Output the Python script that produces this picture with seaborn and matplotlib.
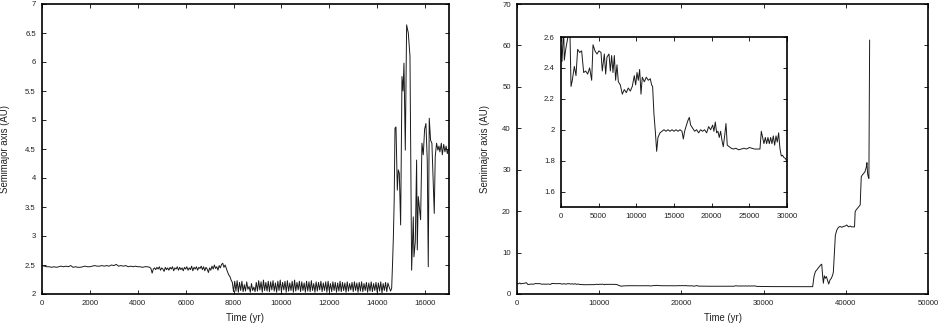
import numpy as np
import pandas as pd
import matplotlib
matplotlib.use("Agg")
import matplotlib.pyplot as plt
import seaborn as sns
from matplotlib.ticker import FuncFormatter

# ---------------- data: left panel ----------------
left_time_a = np.arange(0, 4500, 100)
left_a = [2.49, 2.48, 2.47, 2.47, 2.46, 2.47, 2.46, 2.47, 2.48, 2.47,
          2.48, 2.47, 2.49, 2.46, 2.47, 2.46, 2.46, 2.47, 2.48, 2.47,
          2.47, 2.48, 2.49, 2.48, 2.48, 2.49, 2.48, 2.49, 2.48, 2.50,
          2.49, 2.51, 2.48, 2.49, 2.48, 2.49, 2.47, 2.48, 2.47, 2.48,
          2.47, 2.47, 2.46, 2.47, 2.47]

left_time_b = np.arange(4500, 8000, 50)
left_b = [2.46, 2.44, 2.36, 2.43, 2.45, 2.42, 2.46, 2.43, 2.47, 2.41,
          2.45, 2.43, 2.39, 2.46, 2.42, 2.45, 2.41, 2.46, 2.43, 2.47,
          2.40, 2.45, 2.43, 2.47, 2.41, 2.46, 2.42, 2.45, 2.40, 2.46,
          2.43, 2.47, 2.41, 2.45, 2.42, 2.48, 2.40, 2.46, 2.43, 2.47,
          2.41, 2.46, 2.44, 2.48, 2.42, 2.47, 2.40, 2.46, 2.43, 2.37,
          2.45, 2.41, 2.48, 2.43, 2.50, 2.44, 2.47, 2.41, 2.49, 2.45,
          2.51, 2.53, 2.46, 2.50, 2.44, 2.38, 2.33, 2.30, 2.24, 2.20]

left_time_c = np.arange(8000, 14500, 50)
left_c = [2.04, 2.22, 2.05, 2.23, 2.03, 2.20, 2.06, 2.22, 2.04, 2.16,
          2.05, 2.21, 2.08, 2.13, 2.03, 2.18, 2.06, 2.12, 2.04, 2.20,
          2.05, 2.23, 2.07, 2.21, 2.03, 2.24, 2.06, 2.20, 2.05, 2.22,
          2.04, 2.21, 2.07, 2.23, 2.05, 2.19, 2.03, 2.22, 2.06, 2.24,
          2.04, 2.20, 2.07, 2.22, 2.03, 2.23, 2.05, 2.19, 2.06, 2.22,
          2.03, 2.24, 2.05, 2.20, 2.07, 2.22, 2.04, 2.21, 2.06, 2.19,
          2.03, 2.22, 2.05, 2.21, 2.04, 2.23, 2.06, 2.18, 2.03, 2.21,
          2.05, 2.20, 2.07, 2.22, 2.04, 2.19, 2.06, 2.21, 2.03, 2.22,
          2.05, 2.18, 2.04, 2.21, 2.06, 2.20, 2.03, 2.19, 2.05, 2.22,
          2.04, 2.20, 2.06, 2.19, 2.03, 2.21, 2.05, 2.18, 2.07, 2.20,
          2.04, 2.21, 2.06, 2.19, 2.03, 2.20, 2.05, 2.21, 2.04, 2.18,
          2.06, 2.20, 2.03, 2.19, 2.05, 2.21, 2.04, 2.18, 2.06, 2.20,
          2.03, 2.19, 2.05, 2.21, 2.02, 2.18, 2.06, 2.20, 2.04, 2.19]

left_time_d = [14500, 14560, 14605, 14640, 14675, 14710, 14744, 14786, 14841, 14883,
               14925, 14980, 15036, 15080, 15119, 15175, 15230, 15300, 15370, 15439,
               15508, 15536, 15592, 15647, 15675, 15717, 15759, 15814, 15870, 15925,
               15981, 16036, 16092, 16134, 16175, 16231, 16286, 16342, 16384, 16425,
               16481, 16536, 16580, 16620, 16680, 16720, 16780, 16830, 16880, 16930,
               16970]
left_d = [2.12, 2.05, 2.10, 2.50, 2.96, 3.60, 4.86, 4.88, 3.79, 4.14,
          4.08, 3.19, 5.75, 5.50, 5.98, 4.48, 6.64, 6.50, 6.10, 2.41,
          3.33, 2.64, 2.90, 4.31, 2.76, 3.68, 3.50, 3.28, 4.60, 4.40,
          4.84, 4.94, 4.30, 2.47, 5.03, 4.65, 4.60, 3.90, 3.39, 4.37,
          4.60, 4.48, 4.55, 4.45, 4.60, 4.40, 4.58, 4.45, 4.55, 4.42,
          4.50]

# ---------------- data: right panel (and inset) ----------------
right_time = [0, 130, 350, 440, 620, 880, 1150, 1330, 1500, 1770,
              1990, 2210, 2480, 2740, 3010, 3270, 3540, 3800, 4070, 4250,
              4510, 4780, 5040, 5310, 5480, 5750, 5930, 6100, 6370, 6550,
              6720, 6900, 7080, 7250, 7430, 7610, 7870, 8140, 8400, 8670,
              8930, 9200, 9460, 9730, 9910, 10090, 10260, 10440, 10620, 10790,
              11060, 11320, 11590, 11850, 12030, 12160, 12340, 12520, 12700, 12870,
              13140, 13400, 13670, 13930, 14200, 14460, 14730, 15000, 15260, 15530,
              15790, 16060, 16240, 16410, 16590, 16850, 17030, 17210, 17470, 17740,
              18000, 18270, 18530, 18800, 19060, 19330, 19600, 19860, 20130, 20300,
              20480, 20660, 20830, 21010, 21190, 21370, 21540, 21720, 21900, 22070,
              22340, 22600, 22870, 23220, 23570, 23930, 24280, 24640, 24990, 25340,
              25700, 26050, 26410, 26590, 26770, 26940, 27120, 27300, 27470, 27650,
              27830, 28000, 28180, 28360, 28540, 28710, 28890, 29060, 29240, 29410,
              29590, 29770, 29940, 31000, 32000, 33000, 34000, 35000, 35970, 36130,
              36300, 36460, 36620, 36780, 36940, 37070, 37190, 37270, 37390, 37510,
              37640, 37760, 37920, 38080, 38240, 38410, 38490, 38570, 38650, 38730,
              38900, 39100, 39310, 39510, 39710, 39920, 40120, 40330, 40530, 40730,
              40940, 41060, 41140, 41260, 41430, 41590, 41750, 41880, 42000, 42160,
              42330, 42490, 42570, 42650, 42730, 42810, 42900]
right_sma = [2.54, 2.44, 2.66, 2.45, 2.52, 2.59, 2.72, 2.28, 2.32, 2.41,
             2.35, 2.52, 2.50, 2.51, 2.37, 2.38, 2.36, 2.40, 2.32, 2.55,
             2.51, 2.49, 2.51, 2.50, 2.38, 2.49, 2.36, 2.47, 2.49, 2.38,
             2.48, 2.37, 2.48, 2.32, 2.42, 2.31, 2.29, 2.23, 2.26, 2.24,
             2.27, 2.25, 2.28, 2.35, 2.29, 2.37, 2.32, 2.39, 2.23, 2.34,
             2.31, 2.34, 2.32, 2.33, 2.29, 2.28, 2.10, 1.99, 1.86, 1.95,
             1.98, 1.99, 2.00, 1.99, 2.00, 1.99, 2.00, 1.99, 2.00, 1.99,
             2.00, 1.99, 1.94, 1.99, 2.02, 2.06, 2.08, 2.03, 2.01, 1.99,
             2.00, 1.98, 2.00, 1.99, 2.00, 1.98, 2.02, 2.00, 2.03, 1.99,
             2.05, 1.98, 1.99, 1.95, 1.99, 1.93, 1.89, 1.96, 2.04, 1.90,
             1.89, 1.88, 1.875, 1.88, 1.87, 1.875, 1.88, 1.875, 1.885, 1.88,
             1.875, 1.875, 1.875, 1.99, 1.95, 1.91, 1.95, 1.91, 1.95, 1.91,
             1.95, 1.91, 1.96, 1.90, 1.96, 1.92, 1.98, 1.88, 1.83, 1.835,
             1.82, 1.815, 1.80, 1.79, 1.78, 1.78, 1.77, 1.77, 1.77, 4.2,
             5.4, 5.8, 6.2, 6.6, 7.0, 7.2, 4.2, 2.6, 4.4, 3.8,
             4.2, 3.4, 2.4, 3.4, 3.8, 4.6, 5.4, 8.2, 11.4, 14.2,
             15.4, 16.1, 16.3, 16.1, 16.3, 16.4, 16.65, 16.2, 16.4, 16.2,
             16.2, 16.2, 19.9, 20.3, 20.7, 21.1, 21.5, 28.3, 28.7, 29.1,
             29.5, 30.6, 31.7, 29.1, 28.3, 27.9, 61.3]

left_xticks = list(range(0, 17000, 2000))
left_yticks = [2, 2.5, 3, 3.5, 4, 4.5, 5, 5.5, 6, 6.5, 7]
right_xticks = list(range(0, 50001, 10000))
right_yticks = list(range(0, 71, 10))
inset_xticks = list(range(0, 30001, 5000))
inset_yticks = [1.6, 1.8, 2.0, 2.2, 2.4, 2.6]

xlabel = "Time (yr)"
ylabel = "Semimajor axis (AU)"

# ---------------- frames ----------------
left_df = pd.DataFrame({
    "time": np.concatenate([left_time_a, left_time_b, left_time_c, left_time_d]),
    "sma": np.concatenate([left_a, left_b, left_c, left_d]),
})
right_df = pd.DataFrame({"time": right_time, "sma": right_sma})

# ---------------- style ----------------
sns.set_style("ticks")
plt.rcParams["font.family"] = ["Liberation Sans", "DejaVu Sans"]
TXT = "#222222"
LINE = "#1a1a1a"

W, H = 943, 324
fig = plt.figure(figsize=(W / 100, H / 100), dpi=100)
fig.patch.set_facecolor("white")


def px_axes(x0, y0, x1, y1):
    return fig.add_axes([x0 / W, 1 - y1 / H, (x1 - x0) / W, (y1 - y0) / H])


fmt = FuncFormatter(lambda v, p: "%g" % v)


def style(ax, fs=5.6):
    for s in ax.spines.values():
        s.set_linewidth(1.2)
        s.set_color("black")
        s.set_visible(True)
    ax.tick_params(direction="in", top=True, right=True, length=3.2,
                   width=0.6, labelsize=fs, colors="black", labelcolor=TXT)
    ax.tick_params(axis="x", pad=4.2)
    ax.tick_params(axis="y", pad=4.5)
    ax.xaxis.set_major_formatter(fmt)
    ax.yaxis.set_major_formatter(fmt)
    ax.minorticks_off()
    ax.set_facecolor("white")


ax1 = px_axes(42, 4, 449, 294)
ax2 = px_axes(517, 4, 928, 294)
ax3 = px_axes(561, 37, 787, 207)

sns.lineplot(data=left_df, x="time", y="sma", ax=ax1, color=LINE,
             linewidth=0.7, estimator=None, sort=False)
sns.lineplot(data=right_df, x="time", y="sma", ax=ax2, color=LINE,
             linewidth=0.7, estimator=None, sort=False)
sns.lineplot(data=right_df, x="time", y="sma", ax=ax3, color=LINE,
             linewidth=0.7, estimator=None, sort=False)

ax1.set_xlim(0, 17000)
ax1.set_ylim(2, 7)
ax1.set_xticks(left_xticks)
ax1.set_yticks(left_yticks)

ax2.set_xlim(0, 50000)
ax2.set_ylim(0, 70)
ax2.set_xticks(right_xticks)
ax2.set_yticks(right_yticks)

ax3.set_xlim(0, 30000)
ax3.set_ylim(1.5, 2.6)
ax3.set_xticks(inset_xticks)
ax3.set_yticks(inset_yticks)

for ax in (ax1, ax2, ax3):
    style(ax)
ax3.set_zorder(5)

for ax, ylx, xly in ((ax1, (5 - 42) / 407, -(318 - 294) / 290),
                     (ax2, (485 - 517) / 411, -(318 - 294) / 290)):
    ax.set_xlabel(xlabel, fontsize=6.9, color=TXT)
    ax.set_ylabel(ylabel, fontsize=6.9, color=TXT)
    ax.yaxis.set_label_coords(ylx, 0.5)
    ax.xaxis.set_label_coords(0.5, xly)
    ax.yaxis.label.set_va("center")
    ax.xaxis.label.set_va("center")
ax3.set_xlabel("")
ax3.set_ylabel("")

fig.savefig("out.png", dpi=100, facecolor="white")
